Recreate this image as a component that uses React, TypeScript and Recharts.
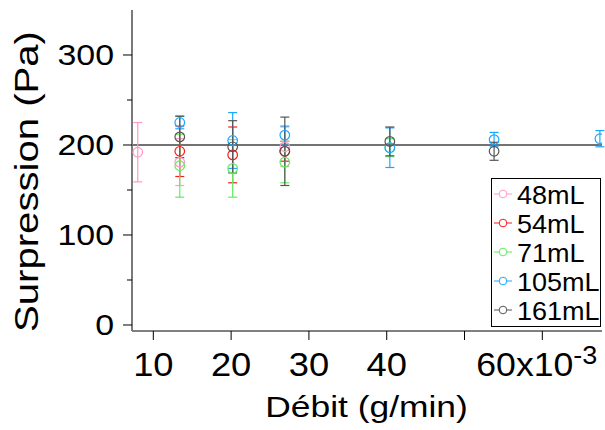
import React from "react";
import { ScatterChart, Scatter, XAxis, YAxis, ErrorBar, ReferenceLine } from "recharts";

// Flow (x10^-3 g/min), pressure (Pa), error (Pa)
const flow48 = [8, 13.4, 26.9];
const pres48 = [192, 181, 198];
const err48 = [33, 26, 22];

const flow54 = [13.4, 20.2, 26.9];
const pres54 = [193, 189, 193];
const err54 = [28, 31, 11];

const flow71 = [13.4, 20.2, 26.9, 40.4];
const pres71 = [177, 174, 181, 197];
const err71 = [35, 32, 23, 10];

const flow105 = [13.4, 20.2, 26.9, 40.4, 53.8, 67.4];
const pres105 = [225, 205, 211, 197, 206, 207];
const err105 = [7, 31, 10, 22, 8, 9];

const flow161 = [13.4, 20.2, 26.9, 40.4, 53.8];
const pres161 = [209, 198, 193, 204, 193];
const err161 = [23, 29, 38, 16, 10];

const seriesNames = ["48mL", "54mL", "71mL", "105mL", "161mL"];
const seriesColors = ["#ff99c8", "#ff1a1a", "#5fee5f", "#1aa8ff", "#555555"];

const xTicks = [10, 20, 30, 40, 50, 60];
const xTickLabels: Record<number, string> = { 10: "10", 20: "20", 30: "30", 40: "40", 50: "", 60: "60x10" };
const yTicks = [0, 50, 100, 150, 200, 250, 300];
const yTickLabels: Record<number, string> = { 0: "0", 100: "100", 200: "200", 300: "300" };
const refValue = 200;

const build = (xs: number[], ys: number[], es: number[]) =>
  xs.map((x, i) => ({ x, y: ys[i], e: es[i] }));

const seriesData = [
  build(flow48, pres48, err48),
  build(flow54, pres54, err54),
  build(flow71, pres71, err71),
  build(flow105, pres105, err105),
  build(flow161, pres161, err161),
];

const FONT = "'Liberation Sans', Arial, sans-serif";

const XTick = (props: any) => {
  const { x, y, payload } = props;
  const v = payload.value;
  const label = xTickLabels[v];
  if (!label) return null;
  if (v === 60) {
    return (
      <g transform={`translate(${x + 55},${y + 34}) scale(1.08,1)`}>
        <text x={0} y={0} textAnchor="end" fontFamily={FONT} fontSize={33} fill="#000">
          {label}
          <tspan fontSize={25} dy={-12}>-3</tspan>
        </text>
      </g>
    );
  }
  return (
    <g transform={`translate(${x},${y + 34}) scale(1.1,1)`}>
      <text x={0} y={0} textAnchor="middle" fontFamily={FONT} fontSize={33} fill="#000">
        {label}
      </text>
    </g>
  );
};

const YTick = (props: any) => {
  const { x, y, payload } = props;
  const v = payload.value;
  const label = yTickLabels[v];
  const len = label !== undefined ? 9 : 5;
  return (
    <g>
      <line x1={x - len} x2={x} y1={y} y2={y} stroke="#000" strokeWidth={1} />
      {label !== undefined && (
        <g transform={`translate(${x - 18},${y + 10.5}) scale(1.15,1)`}>
          <text x={0} y={0} textAnchor="end" fontFamily={FONT} fontSize={29.5} fill="#000">
            {label}
          </text>
        </g>
      )}
    </g>
  );
};

const makeShape = (color: string) => (props: any) => {
  const { cx, cy } = props;
  return <circle cx={cx} cy={cy} r={4.8} fill="none" stroke={color} strokeWidth={1.2} />;
};

const LegendBox = () => {
  const rowY = [194, 223, 252, 281, 310];
  return (
    <svg
      width={110}
      height={150}
      style={{ position: "absolute", left: 491, top: 178, overflow: "visible" }}
    >
      <rect x={0.5} y={0.5} width={109} height={148} fill="#fff" stroke="#000" strokeWidth={1} />
      {seriesNames.map((n, i) => {
        const cy = rowY[i] - 178;
        return (
          <g key={n}>
            <line x1={3} x2={21} y1={cy} y2={cy} stroke={seriesColors[i]} strokeWidth={1} />
            <circle cx={12} cy={cy} r={3.8} fill="#fff" stroke={seriesColors[i]} strokeWidth={1} />
            <g transform={`translate(26,${cy + 9.5}) scale(1.06,1)`}>
              <text x={0} y={0} fontFamily={FONT} fontSize={25.5} fill="#000">
                {n}
              </text>
            </g>
          </g>
        );
      })}
    </svg>
  );
};

export default function App() {
  return (
    <div style={{ position: "absolute", left: 0, top: 0, width: 605, height: 430, background: "#fff" }}>
      <ScatterChart width={605} height={430} margin={{ top: 10, right: 3, bottom: 0, left: 0 }}>
        <XAxis
          type="number"
          dataKey="x"
          domain={[7.26, 67.67]}
          ticks={xTicks}
          allowDataOverflow
          height={99}
          tickSize={9}
          tickMargin={2}
          axisLine={{ stroke: "#000", strokeWidth: 1 }}
          tickLine={{ stroke: "#000", strokeWidth: 1 }}
          tick={<XTick />}
          interval={0}
        />
        <YAxis
          type="number"
          dataKey="y"
          domain={[-6.67, 350]}
          ticks={yTicks}
          allowDataOverflow
          width={132}
          tickSize={0}
          tickMargin={0}
          axisLine={{ stroke: "#7a7a7a", strokeWidth: 2 }}
          tickLine={false}
          tick={<YTick />}
          interval={0}
        />
        <ReferenceLine y={refValue} stroke="#444" strokeWidth={1.3} />
        {seriesData.map((d, i) => (
          <Scatter
            key={seriesNames[i]}
            name={seriesNames[i]}
            data={d}
            isAnimationActive={false}
            shape={makeShape(seriesColors[i])}
          >
            <ErrorBar dataKey="e" direction="y" width={4.5} stroke={seriesColors[i]} strokeWidth={1.2} />
          </Scatter>
        ))}
      </ScatterChart>
      <svg width={605} height={430} style={{ position: "absolute", left: 0, top: 0, pointerEvents: "none" }}>
        <g transform="translate(38,181.5) rotate(-90) scale(1.18,1)">
          <text x={0} y={0} textAnchor="middle" fontFamily={FONT} fontSize={34} fill="#000">
            Surpression (Pa)
          </text>
        </g>
        <g transform="translate(366.5,416.5) scale(1.18,1)">
          <text x={0} y={0} textAnchor="middle" fontFamily={FONT} fontSize={30} fill="#000">
            Débit (g/min)
          </text>
        </g>
      </svg>
      <LegendBox />
    </div>
  );
}
